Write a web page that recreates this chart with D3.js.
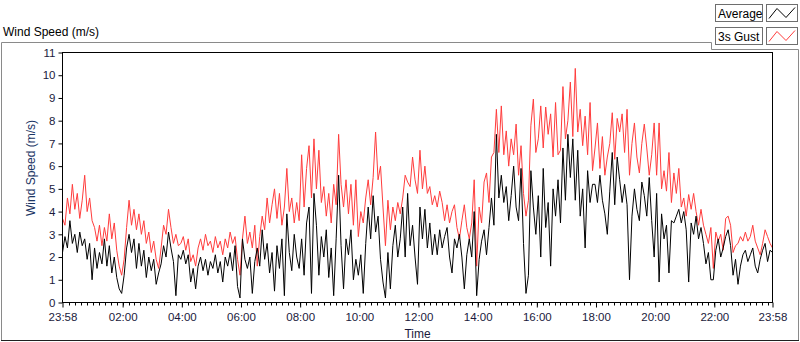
<!DOCTYPE html>
<html>
<head>
<meta charset="utf-8">
<script src="https://cdn.jsdelivr.net/npm/d3@7/dist/d3.min.js"></script>
<style>
  body { margin: 0; background: #fff; }
  svg { display: block; font-family: "Liberation Sans", Arial, sans-serif; }
</style>
</head>
<body>
<svg id="chart" width="800" height="342"></svg>
<script>
// 5 minute samples, 23:58 -> 23:58 next day (289 points)
const startTime = new Date(2020, 0, 1, 23, 58);
const endTime = new Date(2020, 0, 2, 23, 58);

const averageSpeed = [
  2.2, 2.9, 2.4, 3.6, 2.6, 3.0, 2.2, 3.1, 2.5, 2.8, 1.9, 2.6, 1.0, 2.4, 1.5, 2.2, 1.7, 2.8, 1.6, 2.5, 1.3, 2.0, 1.1, 0.6,
  0.4, 1.2, 2.4, 3.0, 2.2, 2.8, 1.5, 2.6, 1.6, 2.3, 1.1, 2.0, 1.4, 1.9, 0.8, 1.3, 1.7, 2.5, 2.0, 3.1, 2.4, 1.8, 0.3, 2.1,
  1.9, 2.3, 1.7, 2.1, 0.9, 1.5, 0.6, 1.6, 2.0, 1.4, 1.9, 1.2, 1.8, 1.5, 2.1, 1.3, 1.8, 0.9, 2.0, 1.6, 2.2, 1.4, 2.5, 0.7,
  0.2, 2.8, 1.9, 1.5, 2.0, 0.4, 1.8, 2.4, 1.6, 3.2, 1.9, 2.6, 1.3, 2.2, 0.5, 2.5, 1.5, 2.8, 0.3, 3.9, 2.2, 1.4, 3.0, 2.0,
  1.5, 2.8, 1.2, 3.5, 4.2, 0.4, 4.8, 3.4, 1.2, 2.9, 2.0, 3.2, 1.1, 2.4, 0.3, 2.8, 5.6, 2.5, 0.6, 2.8, 2.1, 3.2, 1.0, 1.9,
  1.2, 2.1, 0.4, 2.6, 4.2, 2.8, 4.7, 3.1, 3.8, 1.9, 0.9, 0.2, 2.2, 0.6, 2.5, 3.4, 2.0, 2.8, 4.2, 2.0, 4.8, 2.5, 3.4, 2.0,
  0.8, 4.2, 2.8, 4.1, 2.4, 3.5, 2.1, 3.0, 2.1, 3.2, 2.4, 2.9, 3.3, 2.0, 1.3, 2.8, 2.4, 3.0, 2.0, 0.6, 2.1, 2.8, 2.0, 4.0,
  0.3, 1.9, 2.7, 3.2, 2.1, 3.3, 4.6, 3.4, 7.4, 4.6, 5.6, 4.4, 5.1, 3.6, 4.7, 6.0, 4.2, 3.6, 5.9, 2.6, 0.4, 1.2, 5.8, 4.2,
  3.0, 4.7, 2.0, 5.9, 3.3, 4.4, 1.6, 5.0, 3.8, 5.4, 3.5, 6.8, 4.5, 7.4, 5.5, 7.2, 4.5, 6.7, 3.8, 5.0, 2.4, 5.8, 4.4, 5.2,
  5.2, 4.4, 5.6, 4.5, 3.9, 3.0, 4.9, 6.6, 4.3, 6.4, 5.4, 4.4, 5.2, 4.3, 1.0, 3.8, 5.0, 4.1, 3.6, 5.3, 4.7, 3.8, 5.5, 3.6,
  2.0, 4.8, 0.9, 3.9, 2.8, 3.4, 1.3, 3.6, 3.5, 3.8, 4.1, 3.5, 4.0, 3.2, 0.9, 3.5, 3.0, 3.8, 2.8, 3.3, 2.6, 1.7, 2.2, 1.0,
  1.0, 2.3, 2.8, 2.0, 2.4, 2.9, 3.2, 2.5, 1.2, 1.9, 0.8, 1.6, 2.1, 2.3, 1.8, 2.1, 2.4, 1.6, 1.3, 1.9, 2.3, 2.6, 1.8, 2.3,
  2.2
];

const gustSpeed = [
  3.7, 3.4, 4.6, 3.9, 5.2, 4.1, 4.8, 3.7, 4.5, 5.6, 4.0, 4.6, 3.6, 3.3, 2.7, 3.4, 2.5, 3.3, 2.7, 3.9, 2.8, 3.5, 2.3, 1.6,
  1.2, 1.9, 3.3, 4.5, 3.4, 4.1, 3.2, 3.9, 3.0, 3.6, 2.6, 3.1, 2.2, 2.7, 1.9, 1.5, 2.4, 3.4, 3.0, 4.1, 3.3, 2.6, 3.0, 2.5,
  2.6, 2.9, 2.3, 2.8, 1.8, 2.1, 1.6, 2.4, 2.8, 2.3, 3.0, 2.5, 2.7, 2.2, 2.9, 2.4, 2.7, 2.1, 2.8, 2.4, 3.1, 2.6, 2.9, 1.9,
  1.2, 2.8, 3.8, 2.6, 3.1, 2.4, 3.4, 1.6, 2.9, 3.8, 3.2, 4.6, 3.5, 4.3, 5.0, 3.7, 4.8, 3.4, 4.2, 5.9, 4.0, 4.6, 3.5, 4.4,
  3.6, 6.5, 4.2, 5.9, 6.9, 4.6, 7.2, 5.0, 6.7, 4.4, 5.1, 3.8, 4.8, 3.5, 5.2, 4.3, 7.4, 5.2, 4.2, 5.4, 3.9, 5.2, 3.4, 5.4,
  2.9, 4.0, 3.5, 4.6, 5.4, 4.3, 5.5, 7.5, 5.4, 6.0, 4.2, 2.5, 4.5, 3.2, 4.2, 3.6, 4.4, 3.9, 4.6, 5.6, 5.3, 5.1, 6.4, 5.4,
  4.8, 6.7, 5.0, 6.0, 4.8, 5.1, 4.3, 4.7, 4.2, 4.9, 4.4, 3.6, 4.3, 3.5, 4.0, 4.3, 3.3, 2.8, 3.6, 4.3, 3.3, 2.8, 3.5, 5.4,
  1.6, 4.2, 3.5, 5.3, 5.7, 4.4, 6.4, 6.6, 8.5, 6.6, 8.65, 6.5, 7.55, 6.0, 7.2, 6.5, 7.85, 5.6, 6.9, 4.8, 3.8, 4.5, 7.8, 8.95,
  6.6, 7.2, 8.65, 6.8, 8.6, 7.4, 8.3, 6.4, 8.8, 6.5, 6.7, 9.5, 7.2, 8.0, 9.7, 7.3, 10.3, 7.5, 8.5, 6.9, 8.2, 6.5, 8.8, 5.8,
  6.8, 7.9, 5.9, 7.3, 5.6, 6.4, 7.0, 8.35, 6.3, 8.1, 7.5, 8.3, 6.6, 8.5, 5.6, 7.0, 7.9, 6.4, 5.7, 7.0, 7.85, 6.8, 5.6, 6.5,
  7.9, 5.6, 7.9, 5.0, 5.8, 4.9, 6.6, 4.4, 5.7, 4.8, 5.9, 4.2, 4.6, 3.8, 4.75, 4.1, 4.8, 4.0, 3.4, 4.1, 3.4, 3.0, 2.6, 3.3,
  1.5, 3.1, 2.7, 3.0, 2.3, 3.7, 3.8, 3.4, 2.2, 2.5, 2.6, 2.9, 2.7, 3.1, 2.7, 2.9, 3.4, 2.7, 2.4, 2.1, 2.6, 3.2, 2.9, 2.6,
  2.4
];

const yTicks = [0, 1, 2, 3, 4, 5, 6, 7, 8, 9, 10, 11];
const legendLabels = ["Average", "3s Gust"];
const seriesColors = ["#000000", "#ff3c3c"];

const svg = d3.select("#chart");
const plot = { left: 62.5, right: 772.5, top: 52.5, bottom: 302.5 };
const textColor = "#1a1a3c";

// outer frame
svg.append("path")
  .attr("d", "M1.5,341 V42.5 H711.5 V49.5 H798.5 V340.5")
  .attr("fill", "none").attr("stroke", "#8a8a8a");
svg.append("line")
  .attr("x1", 1).attr("x2", 799).attr("y1", 340.5).attr("y2", 340.5)
  .attr("stroke", "#202020");

svg.append("text")
  .attr("x", 3).attr("y", 36)
  .attr("font-size", 12).attr("fill", "#000")
  .text("Wind Speed (m/s)");

// scales
const x = d3.scaleTime().domain([startTime, endTime]).range([plot.left, plot.right]);
const y = d3.scaleLinear().domain([0, 11]).range([plot.bottom, plot.top]);

const times = averageSpeed.map((d, i) => d3.timeMinute.offset(startTime, i * 5));

svg.append("rect")
  .attr("x", plot.left).attr("y", plot.top)
  .attr("width", plot.right - plot.left).attr("height", plot.bottom - plot.top)
  .attr("fill", "#fff");

const line = d3.line()
  .x((d, i) => x(times[i]))
  .y(d => y(d));

svg.append("path")
  .datum(gustSpeed)
  .attr("d", line)
  .attr("fill", "none")
  .attr("stroke", seriesColors[1])
  .attr("stroke-width", 1);

svg.append("path")
  .datum(averageSpeed)
  .attr("d", line)
  .attr("fill", "none")
  .attr("stroke", seriesColors[0])
  .attr("stroke-width", 1);

// plot frame
svg.append("rect")
  .attr("x", plot.left).attr("y", plot.top)
  .attr("width", plot.right - plot.left).attr("height", plot.bottom - plot.top)
  .attr("fill", "none").attr("stroke", "#000");

// y axis
const yAxis = svg.append("g")
  .attr("transform", `translate(${plot.left},0)`)
  .call(d3.axisLeft(y).tickValues(yTicks).tickSize(4).tickPadding(3));
yAxis.select(".domain").remove();
yAxis.selectAll("text").attr("font-size", 11.5).attr("fill", textColor)
  .attr("font-family", "Liberation Sans, Arial, sans-serif");

// x axis: majors every 2h plus the end points, minors every 12 min
const majorTicks = [startTime].concat(d3.timeHour.every(2).range(d3.timeMinute.offset(startTime, 5), endTime), [endTime]);
const minorTicks = d3.timeMinute.every(12).range(startTime, endTime)
  .filter(t => Math.abs(x(t) - x(startTime)) > 2 && Math.abs(x(t) - x(endTime)) > 2);

svg.append("g")
  .selectAll("line")
  .data(minorTicks)
  .join("line")
  .attr("x1", d => Math.round(x(d)) + 0.5).attr("x2", d => Math.round(x(d)) + 0.5)
  .attr("y1", plot.bottom).attr("y2", plot.bottom + 3)
  .attr("stroke", "#000");

const xAxis = svg.append("g")
  .attr("transform", `translate(0,${plot.bottom})`)
  .call(d3.axisBottom(x).tickValues(majorTicks).tickSize(5).tickPadding(5)
    .tickFormat(d3.timeFormat("%H:%M")));
xAxis.select(".domain").remove();
xAxis.selectAll("text").attr("font-size", 11.5).attr("fill", textColor)
  .attr("font-family", "Liberation Sans, Arial, sans-serif");

// axis titles
svg.append("text")
  .attr("x", (plot.left + plot.right) / 2).attr("y", 338)
  .attr("text-anchor", "middle").attr("font-size", 12).attr("fill", textColor)
  .text("Time");

svg.append("text")
  .attr("transform", "translate(35,168) rotate(-90)")
  .attr("text-anchor", "middle").attr("font-size", 12).attr("fill", "#1b3564")
  .text("Wind Speed (m/s)");

// legend
const legend = svg.append("g");
legendLabels.forEach((label, i) => {
  const top = 4.5 + i * 23;
  legend.append("rect")
    .attr("x", 715.5).attr("y", top).attr("width", 47).attr("height", 17)
    .attr("fill", "#fff").attr("stroke", "#6e6e6e");
  legend.append("text")
    .attr("x", 718).attr("y", top + 13)
    .attr("font-size", 12).attr("fill", "#000")
    .text(label);
  legend.append("rect")
    .attr("x", 766.5).attr("y", top).attr("width", 31).attr("height", 17)
    .attr("fill", "#fff").attr("stroke", "#6e6e6e");
  legend.append("path")
    .attr("d", `M769,${top + 14} L777,${top + 4} L786,${top + 13} L795,${top + 3}`)
    .attr("fill", "none").attr("stroke", seriesColors[i]);
});
</script>
</body>
</html>
